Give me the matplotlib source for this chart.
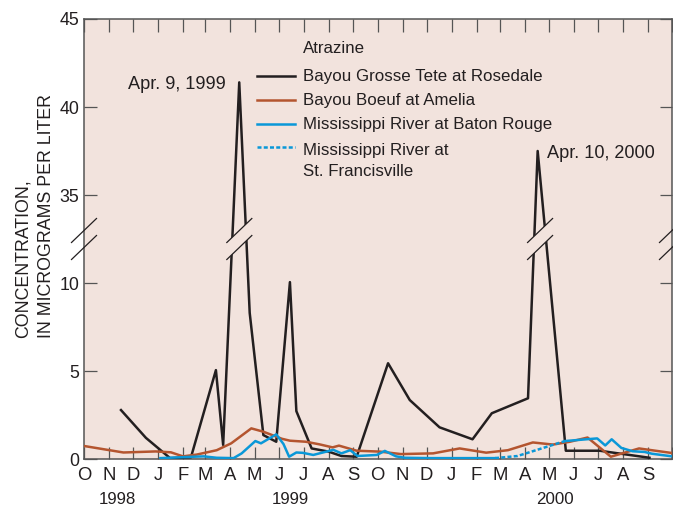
import numpy as np
import pandas as pd
import matplotlib
matplotlib.use("Agg")
import matplotlib.pyplot as plt
import matplotlib.dates as mdates
from matplotlib.lines import Line2D
from matplotlib.patches import Polygon
from matplotlib.transforms import blended_transform_factory

plt.rcParams['font.family'] = ['Liberation Sans', 'DejaVu Sans']

# ---------------- data ----------------
rosedale_dates = ["1998-11-16", "1998-12-17", "1999-01-16", "1999-02-11", "1999-03-14",
                  "1999-03-23", "1999-04-12", "1999-04-25", "1999-05-12", "1999-05-28",
                  "1999-06-14", "1999-06-22", "1999-07-11", "1999-08-01", "1999-08-17",
                  "1999-09-05", "1999-10-14", "1999-11-10", "1999-12-17", "2000-01-27",
                  "2000-02-20", "2000-04-05", "2000-04-17", "2000-05-22", "2000-07-03",
                  "2000-09-03"]
rosedale_vals = [2.78, 1.2, 0.05, 0.1, 5.05,
                 0.8, 41.4, 8.3, 1.36, 0.98,
                 10.05, 2.72, 0.6, 0.42, 0.17,
                 0.13, 5.44, 3.35, 1.8, 1.12,
                 2.6, 3.45, 37.5, 0.47, 0.47,
                 0.07]

amelia_dates = ["1998-10-01", "1998-11-19", "1998-12-29", "1999-01-17", "1999-02-01",
                "1999-02-18", "1999-03-15", "1999-04-02", "1999-04-27", "1999-05-12",
                "1999-06-04", "1999-06-14", "1999-07-04", "1999-07-21", "1999-08-06",
                "1999-08-14", "1999-09-05", "1999-10-04", "1999-10-30", "1999-12-09",
                "2000-01-11", "2000-02-13", "2000-03-11", "2000-04-11", "2000-05-06",
                "2000-05-27", "2000-06-18", "2000-07-17", "2000-08-21", "2000-10-01"]
amelia_vals = [0.74, 0.37, 0.43, 0.38, 0.15,
               0.25, 0.5, 0.89, 1.74, 1.55,
               1.15, 1.04, 0.98, 0.83, 0.66,
               0.76, 0.47, 0.42, 0.28, 0.32,
               0.6, 0.36, 0.5, 0.94, 0.82,
               0.98, 1.22, 0.13, 0.6, 0.34]

batonrouge_dates = ["1999-01-04", "1999-02-15", "1999-02-27", "1999-03-15", "1999-04-05",
                    "1999-04-15", "1999-05-02", "1999-05-09", "1999-05-28", "1999-06-06",
                    "1999-06-13", "1999-06-22", "1999-06-30", "1999-07-13", "1999-08-07",
                    "1999-08-17", "1999-08-28", "1999-09-06", "1999-09-30", "1999-10-10",
                    "1999-10-24", "1999-11-04", "1999-12-05", "2000-01-11", "2000-02-24",
                    "2000-04-01",
                    "2000-05-21", "2000-06-30", "2000-07-10", "2000-07-18", "2000-07-30",
                    "2000-08-13", "2000-08-28", "2000-09-06", "2000-10-01"]
batonrouge_vals = [0.05, 0.13, 0.15, 0.07, 0.05,
                   0.32, 1.02, 0.89, 1.4, 0.85,
                   0.13, 0.37, 0.35, 0.23, 0.52,
                   0.32, 0.5, 0.17, 0.23, 0.46,
                   0.15, 0.07, 0.05, 0.05, 0.05,
                   np.nan,
                   1.02, 1.17, 0.77, 1.12, 0.63,
                   0.44, 0.4, 0.3, 0.15]

francisville_dates = ["2000-02-24", "2000-03-23", "2000-05-21"]
francisville_vals = [0.05, 0.17, 1.02]

month_labels = list("ONDJFMAMJJASONDJFMAMJJAS") + [""]
year_labels = ["1998", "1999", "2000"]
year_label_dates = ["1998-11-12", "1999-06-14", "2000-05-08"]

series_labels = ["Bayou Grosse Tete at Rosedale", "Bayou Boeuf at Amelia",
                 "Mississippi River at Baton Rouge", "Mississippi River at\nSt. Francisville"]
legend_title = "Atrazine"
peak_notes = ["Apr. 9, 1999", "Apr. 10, 2000"]

y_ticks = [0, 5, 10, 35, 40, 45]

# ---------------- style ----------------
BG = "#f2e3dd"
TXT = "#231f20"
SPINE = "#555555"
C_BLACK = "#231f20"
C_ORANGE = "#b4552f"
C_BLUE = "#0a98d8"
LW = 1.8

BREAK_LO, BREAK_HI = 12.5, 32.5
GAP = BREAK_HI - BREAK_LO


def fwd(y):
    y = np.asarray(y, dtype=float)
    return np.where(y <= BREAK_LO, y, np.maximum(y - GAP, BREAK_LO))


def inv(t):
    t = np.asarray(t, dtype=float)
    return np.where(t <= BREAK_LO, t, t + GAP)


W, H = 673, 508
fig = plt.figure(figsize=(W / 100, H / 100), dpi=100)
ax_l, ax_r, ax_t, ax_b = 84, 672, 19, 459
ax = fig.add_axes([ax_l / W, 1 - ax_b / H, (ax_r - ax_l) / W, (ax_b - ax_t) / H])
ax.set_facecolor(BG)
ax.set_yscale('function', functions=(fwd, inv))

def d(lst):
    return pd.to_datetime(lst)

ax.plot(d(rosedale_dates), rosedale_vals, color=C_BLACK, lw=LW, zorder=3)
ax.plot(d(amelia_dates), amelia_vals, color=C_ORANGE, lw=LW, zorder=3)
ax.plot(d(batonrouge_dates), batonrouge_vals, color=C_BLUE, lw=LW, zorder=3)
ax.plot(d(francisville_dates), francisville_vals, color=C_BLUE, lw=LW,
        dashes=(1.6, 0.9), zorder=3)

xmin, xmax = pd.Timestamp("1998-10-01"), pd.Timestamp("2000-10-01")
ax.set_xlim(xmin, xmax)
ax.set_ylim(0, 45)

month_ticks = pd.date_range(xmin, xmax, freq="MS")
ax.set_xticks(month_ticks)
ax.set_xticklabels(month_labels)
ax.set_yticks(y_ticks)
ax.set_yticklabels([str(v) for v in y_ticks])
ax.minorticks_off()

for s in ax.spines.values():
    s.set_color(SPINE)
    s.set_linewidth(1.1)

ax.tick_params(axis='both', direction='in', top=True, right=True, length=9,
               width=0.9, color=SPINE, labelcolor=TXT)
ax.tick_params(axis='x', labelsize=13.3, pad=6)
ax.tick_params(axis='y', labelsize=12.8, pad=3.5)

# year labels
bt = blended_transform_factory(ax.transData, ax.transAxes)
for lab, dt in zip(year_labels, year_label_dates):
    ax.text(pd.Timestamp(dt), -0.0915, lab, transform=bt, ha='center', va='center',
            fontsize=12.2, color=TXT)

# y label
fig.text(34.5 / W, 1 - 216 / H, "CONCENTRATION,\nIN MICROGRAMS PER LITER",
         rotation=90, ha='center', va='center', multialignment='left',
         fontsize=12.8, color=TXT, linespacing=1.5)

# ---------------- axis breaks ----------------
aw, ah = ax_r - ax_l, ax_b - ax_t
ycen = float(fwd(BREAK_LO) / fwd(45))
hdx, hdy, off = 12.5 / aw, 12.0 / ah, 8.5 / ah


def draw_break(xf, fill):
    if fill:
        poly = Polygon([(xf - hdx, ycen - off - hdy), (xf + hdx, ycen - off + hdy),
                        (xf + hdx, ycen + off + hdy), (xf - hdx, ycen + off - hdy)],
                       closed=True, transform=ax.transAxes, facecolor=BG,
                       edgecolor='none', zorder=5)
        ax.add_patch(poly)
    for s in (-off, off):
        ax.add_line(Line2D([xf - hdx, xf + hdx], [ycen + s - hdy, ycen + s + hdy],
                           transform=ax.transAxes, color=C_BLACK, lw=0.9,
                           clip_on=False, zorder=6))


draw_break(0.0, False)
draw_break(1.0, False)

xs = mdates.date2num(d(rosedale_dates))
ts = fwd(rosedale_vals)
x0n, x1n = mdates.date2num(xmin), mdates.date2num(xmax)
peak_idx = [i for i, v in enumerate(rosedale_vals) if v > BREAK_HI]
for i in peak_idx:
    xl = xs[i - 1] + (BREAK_LO - ts[i - 1]) / (ts[i] - ts[i - 1]) * (xs[i] - xs[i - 1])
    xr = xs[i] + (ts[i] - BREAK_LO) / (ts[i] - ts[i + 1]) * (xs[i + 1] - xs[i])
    xc = 0.5 * (xl + xr)
    draw_break((xc - x0n) / (x1n - x0n), True)

# peak annotations
for k, i in enumerate(peak_idx):
    if k == 0:
        ax.annotate(peak_notes[k], xy=(pd.Timestamp(rosedale_dates[i]), rosedale_vals[i]),
                    xytext=(-9.4, -4.6), textcoords='offset points', ha='right',
                    va='baseline', fontsize=13.1, color=TXT)
    else:
        ax.annotate(peak_notes[k], xy=(pd.Timestamp(rosedale_dates[i]), rosedale_vals[i]),
                    xytext=(6.5, -5.0), textcoords='offset points', ha='left',
                    va='baseline', fontsize=13.1, color=TXT)

# ---------------- legend ----------------
def fy(py):
    return (ax_b - py) / ah

hx0, hx1, tx = (257 - ax_l) / aw, (295 - ax_l) / aw, (303 - ax_l) / aw
ax.text(tx, fy(53.3), legend_title, transform=ax.transAxes, va='baseline', ha='left',
        fontsize=12.2, color=TXT)
styles = [dict(color=C_BLACK), dict(color=C_ORANGE), dict(color=C_BLUE),
          dict(color=C_BLUE, dashes=(1.6, 0.9))]
handle_y = [75.7, 100, 124, 147.3]
text_y = [80.7, 105, 129.3, 153.3]
line_gap = 22.7
for lab, st, hy, ty in zip(series_labels, styles, handle_y, text_y):
    ax.add_line(Line2D([hx0, hx1], [fy(hy), fy(hy)], transform=ax.transAxes, lw=LW, **st))
    nlines = lab.count("\n")
    ax.text(tx, fy(ty + nlines * line_gap), lab, transform=ax.transAxes, va='baseline',
            ha='left', fontsize=12.2, color=TXT, linespacing=1.5)

fig.savefig("out.png", dpi=100, facecolor='white')
